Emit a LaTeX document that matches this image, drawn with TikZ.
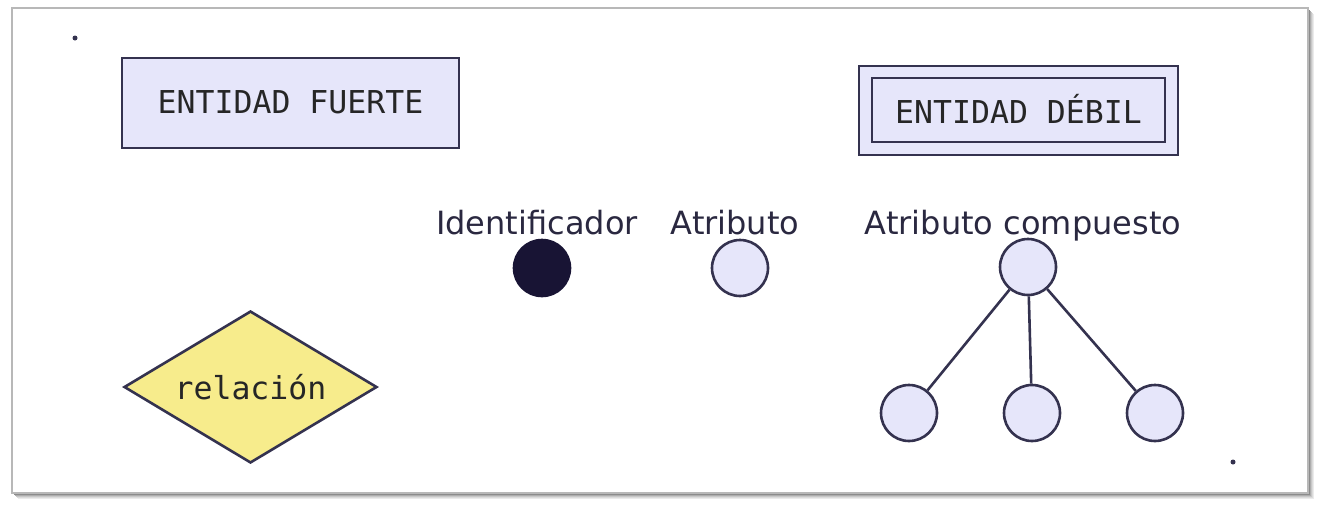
\documentclass[tikz,border=0pt]{standalone}
\usepackage{fontspec}
\setmainfont{DejaVu Sans}
\newfontfamily\monofont{DejaVu Sans Mono}
\usetikzlibrary{shapes.geometric}
\definecolor{ink}{HTML}{34324F}
\definecolor{lav}{HTML}{E6E6FA}
\definecolor{ident}{HTML}{181434}
\definecolor{yel}{HTML}{F7EC8C}
\definecolor{txt}{HTML}{2A2840}
\tikzset{
  x=1pt, y=-1pt,
  ent/.style={draw=ink, line width=2.6pt, fill=lav, inner sep=0pt},
  lbl/.style={font=\fontsize{32}{32}\selectfont, text=txt, anchor=base},
  mtxt/.style={font=\monofont\fontsize{31.5}{31.5}\selectfont, text=black!85},
  attr/.style={circle, draw=ink, line width=2.6pt, fill=lav, minimum size=56pt, inner sep=0pt},
  conn/.style={draw=ink, line width=2.6pt},
  dotmark/.style={circle, fill=ink, inner sep=0pt, minimum size=5pt}
}
\begin{document}
\begin{tikzpicture}
\useasboundingbox (0,0) rectangle (1321,509);
% frame with shadow
\foreach \o/\g in {6/8,5/14,4/22,3/32,2/45}{
  \fill[black!\g] (12+\o,8+\o) rectangle (1308+\o,493+\o);
}
\fill[white] (12,8) rectangle (1308,493);
\draw[black!28, line width=1.5pt] (12,8) rectangle (1308,493);
% dots
\node[dotmark] (d1) at (75,38) {};
\node[dotmark] (d2) at (1233,462) {};
% strong entity
\node[ent, minimum width=337pt, minimum height=90pt] (ef) at (290.5,103) {};
\node[mtxt] (eft) at ([yshift=1pt]ef.center) {ENTIDAD FUERTE};
% weak entity
\node[ent, minimum width=319pt, minimum height=89pt] (ed) at (1018.5,110.5) {};
\node[ent, minimum width=293pt, minimum height=64pt] (edi) at (1018.5,110) {};
\node[mtxt] (edt) at ([yshift=1pt]edi.center) {ENTIDAD DÉBIL};
% relation
\node[diamond, draw=ink, line width=2.6pt, fill=yel, minimum width=253pt, minimum height=152pt, inner sep=0pt] (rel) at (250.5,387) {};
\node[mtxt] (relt) at (rel.center) {relación};
% attributes
\node[attr, fill=ident, draw=ident] (id) at (542,268) {};
\node[lbl] (idl) at (537,234) {Identificador};
\node[attr] (at) at (740,268) {};
\node[lbl] (atl) at (735,234) {Atributo};
\node[attr] (ac) at (1028,267) {};
\node[lbl] (acl) at (1023,234) {Atributo compuesto};
\node[attr] (c1) at (909,413) {};
\node[attr] (c2) at (1032,413) {};
\node[attr] (c3) at (1155,413) {};
\draw[conn] (ac) -- (c1);
\draw[conn] (ac) -- (c2);
\draw[conn] (ac) -- (c3);
\end{tikzpicture}
\end{document}
